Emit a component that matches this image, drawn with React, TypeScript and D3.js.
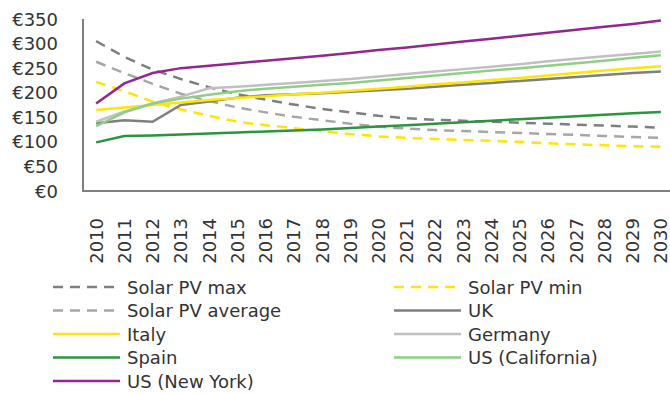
import React from "react";
import * as d3 from "d3";

const years = ["2010","2011","2012","2013","2014","2015","2016","2017","2018","2019","2020","2021","2022","2023","2024","2025","2026","2027","2028","2029","2030"];
const yTicks = [0, 50, 100, 150, 200, 250, 300, 350];

const solarMax = [305, 273, 247, 228, 211, 197, 186, 176, 167, 160, 153, 148, 145, 143, 141, 139, 137, 135, 133, 131, 129];
const solarMin = [222, 203, 182, 166, 153, 141, 134, 128, 122, 116, 111, 108, 106, 104, 102, 100, 97, 95, 93, 91, 90];
const solarAvg = [263, 240, 218, 198, 183, 170, 160, 151, 144, 137, 131, 127, 124, 122, 120, 118, 116, 114, 112, 110, 108];
const uk = [138, 144, 141, 175, 182, 190, 195, 197, 199, 202, 205, 208, 212, 216, 220, 224, 228, 232, 236, 240, 243];
const italy = [165, 170, 175, 180, 185, 189, 193, 197, 200, 204, 208, 212, 217, 221, 226, 230, 235, 240, 245, 250, 254];
const germany = [141, 162, 178, 192, 209, 212, 216, 220, 224, 228, 233, 238, 243, 248, 253, 258, 264, 269, 274, 279, 284];
const spain = [99, 112, 113, 115, 117, 119, 121, 123, 125, 128, 131, 134, 137, 140, 143, 146, 149, 152, 155, 158, 161];
const california = [132, 160, 178, 188, 196, 203, 208, 212, 216, 220, 225, 230, 235, 240, 245, 250, 255, 260, 265, 271, 276];
const newYork = [178, 219, 240, 250, 255, 260, 265, 270, 275, 281, 287, 292, 298, 304, 310, 316, 322, 328, 334, 340, 347];

const seriesNames = ["Solar PV max", "Solar PV min", "Solar PV average", "UK", "Italy", "Germany", "Spain", "US (California)", "US (New York)"];
const seriesValues = [solarMax, solarMin, solarAvg, uk, italy, germany, spain, california, newYork];
const seriesColors = ["#7f7f7f", "#ffe600", "#a6a6a6", "#7f7f7f", "#ffe600", "#c0c0c0", "#2a953e", "#8fcf85", "#91278f"];
const seriesDashed = [true, true, true, false, false, false, false, false, false];

const FONT = "'DejaVu Sans', sans-serif";
const TEXT = "#333333";

export default function App() {
  const W = 670, H = 394;
  const x = d3.scalePoint<string>().domain(years).range([82, 675]).padding(0.5);
  const y = d3.scaleLinear().domain([0, 350]).range([191, 19]);
  const line = d3.line<number>()
    .x((_, i) => x(years[i]) as number)
    .y((d) => y(d));

  const legendRowY = (r: number) => 287 + r * 23.5;
  const legendCols = [{ sx: 53, ex: 120, tx: 127 }, { sx: 394, ex: 461, tx: 468 }];

  return (
    <svg width={W} height={H} style={{ position: "absolute", left: 0, top: 0, background: "#fff" }}>
      {yTicks.map((t) => (
        <text key={t} x={58} y={y(t)} textAnchor="end" dominantBaseline="central"
          fontFamily={FONT} fontSize={18} fill={TEXT}>
          {"€" + t}
        </text>
      ))}
      {years.map((yr) => {
        const cx = x(yr) as number;
        return (
          <text key={yr} transform={`translate(${cx},218) rotate(-90)`} textAnchor="end"
            dominantBaseline="central" fontFamily={FONT} fontSize={18} fill={TEXT}>
            {yr}
          </text>
        );
      })}
      {seriesValues.map((vals, i) => (
        <path key={seriesNames[i]} d={line(vals) || ""} fill="none" stroke={seriesColors[i]}
          strokeWidth={2.5} strokeDasharray={seriesDashed[i] ? "10,7" : undefined} />
      ))}
      <line x1={83} x2={83} y1={19} y2={192} stroke="#808080" strokeWidth={2} />
      <line x1={82} x2={670} y1={191} y2={191} stroke="#808080" strokeWidth={2} />
      {seriesNames.map((name, i) => {
        const col = legendCols[i % 2];
        const row = Math.floor(i / 2);
        const ly = legendRowY(row);
        return (
          <g key={name}>
            <line x1={col.sx} x2={col.ex} y1={ly} y2={ly} stroke={seriesColors[i]} strokeWidth={2.5}
              strokeDasharray={seriesDashed[i] ? "10,7" : undefined} />
            <text x={col.tx} y={ly} dominantBaseline="central" fontFamily={FONT} fontSize={18}
              fill={TEXT}>
              {name}
            </text>
          </g>
        );
      })}
    </svg>
  );
}
